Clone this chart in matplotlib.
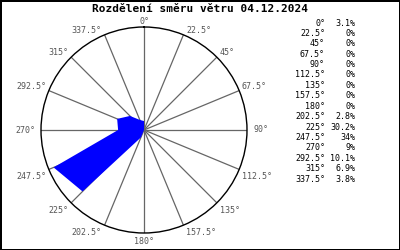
import numpy as np
import matplotlib
matplotlib.use("Agg")
import matplotlib.pyplot as plt

# smer vetru (stupne) a cetnost (%)
directions = [0, 22.5, 45, 67.5, 90, 112.5, 135, 157.5, 180,
              202.5, 225, 247.5, 270, 292.5, 315, 337.5]
dir_labels = ["0°", "22.5°", "45°", "67.5°", "90°", "112.5°", "135°", "157.5°", "180°",
              "202.5°", "225°", "247.5°", "270°", "292.5°", "315°", "337.5°"]
freq = [3.1, 0, 0, 0, 0, 0, 0, 0, 0, 2.8, 30.2, 34, 9, 10.1, 6.9, 3.8]
freq_labels = ["3.1%", "0%", "0%", "0%", "0%", "0%", "0%", "0%", "0%",
               "2.8%", "30.2%", "34%", "9%", "10.1%", "6.9%", "3.8%"]
title = "Rozdělení směru větru 04.12.2024"

mono = "DejaVu Sans Mono"

fig = plt.figure(figsize=(4, 2.5), dpi=100)
fig.patch.set_facecolor("white")
fig.patch.set_edgecolor("black")
fig.patch.set_linewidth(2)

ax = fig.add_axes([0.1025, 0.068, 0.515, 0.824], projection="polar")
ax.set_theta_zero_location("N")
ax.set_theta_direction(-1)

rmax = max(freq) / 0.95
ax.set_ylim(0, rmax)
ax.grid(False)
ax.set_xticks([])
ax.set_yticks([])
ax.spines["polar"].set_color("black")
ax.spines["polar"].set_linewidth(1)

th = np.radians(directions)

# paprsky
for t in th:
    ax.plot([t, t], [0, rmax], color="#666666", lw=0.9, zorder=1)

# ruzice
ax.fill(th, freq, color="#0000ff", lw=0, zorder=3)

# popisky smeru
for t, d, lab in zip(th, directions, dir_labels):
    if d in (0, 180):
        ha = "center"
    elif d < 180:
        ha = "left"
    else:
        ha = "right"
    if d in (90, 270):
        va = "center"
    elif d < 90 or d > 270:
        va = "bottom"
    else:
        va = "top"
    dx = 5 if d == 90 else (-4 if d == 270 else 0)
    dy = 0.5 if d == 0 else (-3 if d == 180 else 0)
    if d not in (0, 90, 180, 270):
        dx = 2 if d < 180 else -2
        dy = 0 if va == "bottom" else -2
    ax.annotate(lab, xy=(t, rmax), xytext=(dx, dy), textcoords="offset points",
                ha=ha, va=va, fontsize=6, family=mono, color="#555555",
                annotation_clip=False)

fig.text(0.5, 0.962, title, ha="center", va="center", fontsize=8,
         fontweight="bold", family=mono)

# tabulka vpravo
y0 = 1 - 23 / 250
step = 10.4 / 250
for i in range(len(directions)):
    y = y0 - i * step
    fig.text(0.8125, y, dir_labels[i], ha="right", va="center", fontsize=6, family=mono)
    fig.text(0.888, y, freq_labels[i], ha="right", va="center", fontsize=6, family=mono)

fig.savefig("out.png", dpi=100, facecolor=fig.get_facecolor(), edgecolor="black")
